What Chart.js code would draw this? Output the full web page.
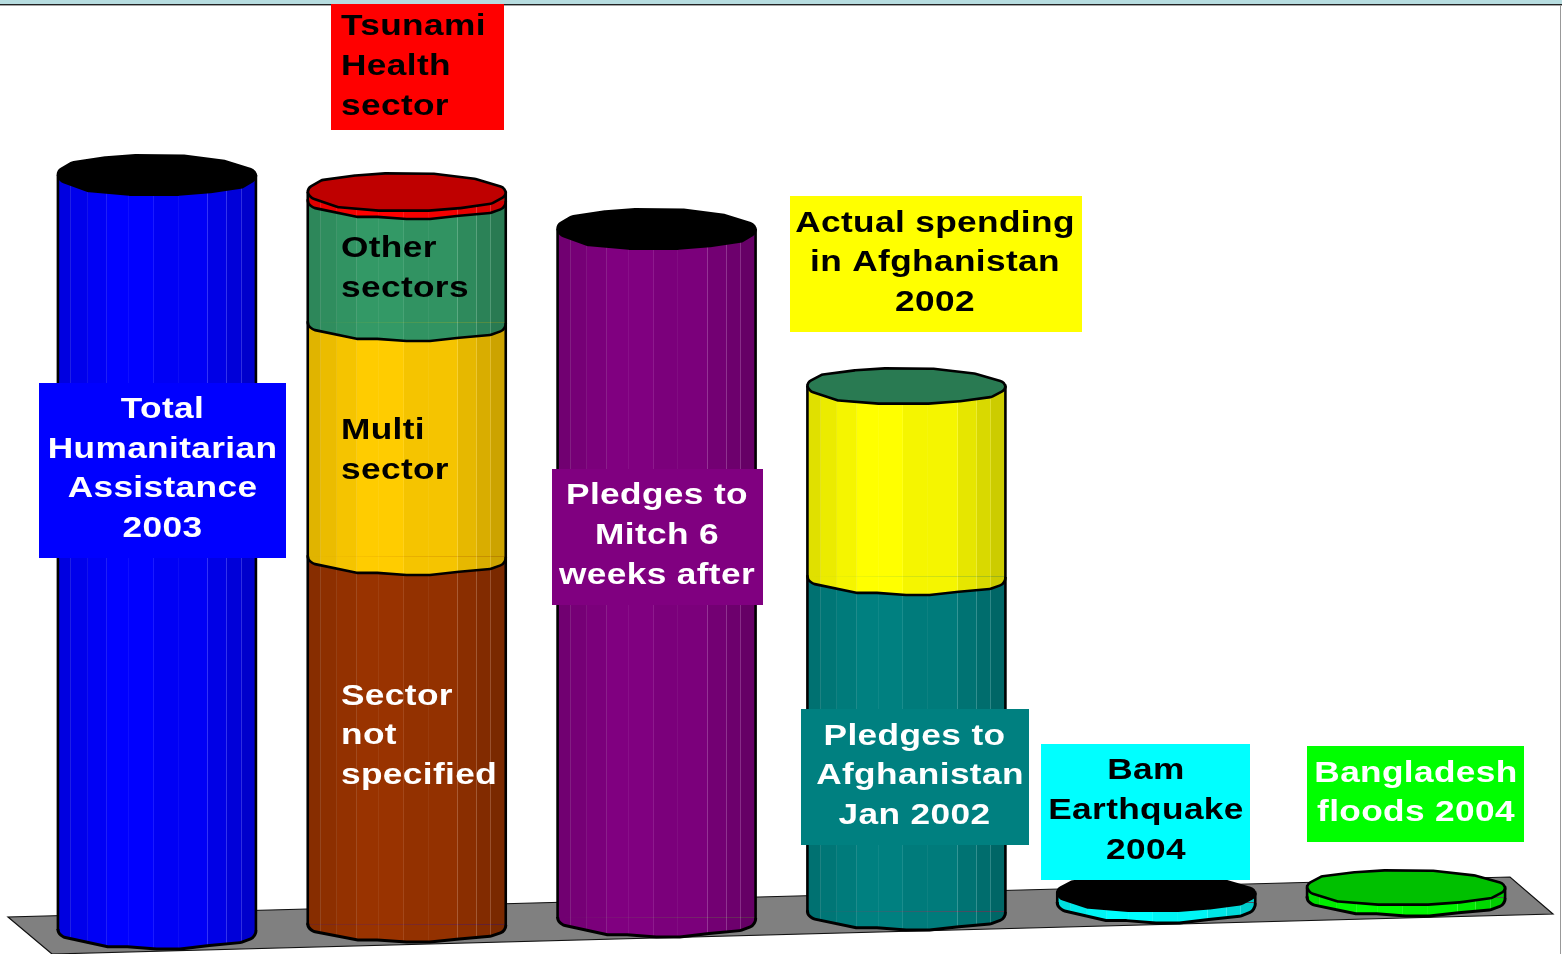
<!DOCTYPE html>
<html><head><meta charset="utf-8">
<style>html,body{margin:0;padding:0;background:#fff;overflow:hidden}canvas{display:block}</style>
<script src="https://cdn.jsdelivr.net/npm/chart.js@4"></script>
</head><body><canvas id="c" width="1562" height="954"></canvas>
<script>
const categories = ["Total Humanitarian Assistance 2003","Tsunami","Pledges to Mitch 6 weeks after","Afghanistan 2002","Bam Earthquake 2004","Bangladesh floods 2004"];
// height of each column foot above the lower edge (the sloping floor)
const floorLift    = [24, 29, 36, 42, 51, 56];
const totalHA      = [755, 0, 0, 0, 0, 0];
const notSpecified = [0, 368, 0, 0, 0, 0];
const multiSector  = [0, 234, 0, 0, 0, 0];
const otherSectors = [0, 122, 0, 0, 0, 0];
const tsunamiHealth= [0, 9, 0, 0, 0, 0];
const mitchPledges = [0, 0, 689, 0, 0, 0];
const afghanPledges= [0, 0, 0, 335, 0, 0];
const afghanActual = [0, 0, 0, 191, 0, 0];
const bamQuake     = [0, 0, 0, 0, 10, 0];
const bdFloods     = [0, 0, 0, 0, 0, 10.5];

const BAR_W = 198;
const CAP_H = [20, 19, 20, 18, 18, 17.5];
const FOOT_H = [19, 17, 19, 18, 20, 18];
const capColor = ["#000000","#bf0000","#000000","#297a52","#000000","#00c000"];

const capPts = [[-1,.08],[-1,-.2],[-.855,-.63],[-.52,-.87],[-.215,-.98],[.27,-.96],[.69,-.69],[.97,-.25],[1,-.05],[1,.2],[.86,.61],[.54,.85],[.22,.98],[-.28,.98],[-.69,.8],[-.96,.32]];
const footPts = [[-1,-.05],[-1,.15],[-.94,.38],[-.5,.88],[-.3,.88],[0,1],[.23,1],[.53,.82],[.85,.66],[.97,.42],[1,.15],[1,0]];

const edges = [-1,-.865,-.7,-.5,-.28,-.03,.22,.52,.71,.855,1];
const shade = [.88,.92,.96,1,1,.96,.96,.9,.85,.8];
const lineAt = [.12,.08,.12,.06,.1,.05,.2,.2,.18];
function mix(rgb,f,l){return 'rgb('+rgb.map(v=>{const s=v*f;return Math.round(s+(255-s)*l);}).join(',')+')';}
function hex(h){return [1,3,5].map(i=>parseInt(h.substr(i,2),16));}
function sideFill(chart,idx,color){
  const sx = chart.scales && chart.scales.x;
  const cx = sx ? sx.getPixelForValue(idx) : NaN;
  if(!isFinite(cx)) return color;
  const g = chart.ctx.createLinearGradient(cx-BAR_W/2,0,cx+BAR_W/2,0);
  const rgb = hex(color), eps=.005;
  shade.forEach((f,i)=>{
    const a=(edges[i]+1)/2, b=(edges[i+1]+1)/2;
    g.addColorStop(a,mix(rgb,f,0)); g.addColorStop(b-eps,mix(rgb,f,0));
    if(i<lineAt.length){g.addColorStop(b-eps,mix(rgb,f,lineAt[i]));g.addColorStop(b,mix(rgb,f,lineAt[i]));}
    else g.addColorStop(b,mix(rgb,f,0));
  });
  return g;
}
function outline(x,pts,closed,r){
  const n=pts.length;
  if(closed){
    const m=[(pts[n-1][0]+pts[0][0])/2,(pts[n-1][1]+pts[0][1])/2];
    x.moveTo(m[0],m[1]);
    pts.forEach((p,i)=>{const q=pts[(i+1)%n];x.arcTo(p[0],p[1],i===n-1?m[0]:q[0],i===n-1?m[1]:q[1],r);});
    x.closePath();
  }else{
    x.moveTo(pts[0][0],pts[0][1]);
    for(let i=1;i<n-1;i++)x.arcTo(pts[i][0],pts[i][1],pts[i+1][0],pts[i+1][1],r);
    x.lineTo(pts[n-1][0],pts[n-1][1]);
  }
}
const ds=(label,data,color)=>({label,data,stack:'s',borderWidth:0,_color:color,
  backgroundColor:c=>c.type==='data'?sideFill(c.chart,c.dataIndex,color):color});

const cylinders={id:'cylinders',
  beforeDatasetsDraw(chart){
    const x=chart.ctx;
    x.save();
    x.fillStyle='#b7dde0';x.fillRect(0,0,1562,4);
    x.fillStyle='#222';x.fillRect(0,4,1562,1.4);
    x.fillStyle='#999';x.fillRect(1560,5,1,949);
    x.beginPath();x.moveTo(8,917);x.lineTo(52,954);x.lineTo(1553,914);x.lineTo(1510,877);x.closePath();
    x.fillStyle='#808080';x.fill();x.strokeStyle='#111';x.lineWidth=1.2;x.stroke();
    x.restore();
  },
  afterDatasetsDraw(chart){
    const x=chart.ctx;
    x.save();x.lineJoin='round';x.lineCap='butt';
    categories.forEach((_,j)=>{
      let top=null;
      const segs=[];
      chart.data.datasets.forEach((d,i)=>{ if(i>0&&d.data[j]>0) segs.push({d,el:chart.getDatasetMeta(i).data[j]}); });
      const hw=BAR_W/2;
      segs.forEach((s,k)=>{
        const el=s.el,cx=el.x,b=el.base,dp=k===0?FOOT_H[j]:Math.max(FOOT_H[j],18);
        const pts=footPts.map(p=>[cx+p[0]*hw,b+p[1]*dp]);
        x.beginPath();outline(x,pts,false,7);x.closePath();
        x.fillStyle=sideFill(chart,j,s.d._color);x.fill();
        x.beginPath();outline(x,pts,false,7);
        x.strokeStyle='#000';x.lineWidth=k===0?3:2.6;x.stroke();
        top=el;
      });
      const first=segs[0].el;
      x.beginPath();x.moveTo(first.x-hw,first.base);x.lineTo(first.x-hw,top.y);
      x.moveTo(first.x+hw,first.base);x.lineTo(first.x+hw,top.y);
      x.strokeStyle='#000';x.lineWidth=2.6;x.stroke();
      const cap=capPts.map(p=>[top.x+p[0]*hw,top.y+p[1]*CAP_H[j]]);
      x.beginPath();outline(x,cap,true,7);
      x.fillStyle=capColor[j];x.fill();x.lineWidth=2.6;x.stroke();
    });
    x.restore();
  }
};

const notes=[
 {lines:["Tsunami","Health","sector"],box:[331,4,173,126,"#ff0000"],ink:"#000",x:341,left:true,y:[35,75,115]},
 {lines:["Other","sectors"],ink:"#000",x:341,left:true,y:[257,297]},
 {lines:["Multi","sector"],ink:"#000",x:341,left:true,y:[439,479]},
 {lines:["Sector","not","specified"],ink:"#fff",x:341,left:true,y:[705,744,784]},
 {lines:["Total","Humanitarian","Assistance","2003"],box:[39,383,247,175,"#0000ff"],ink:"#fff",x:162.5,y:[418,458,497,537]},
 {lines:["Pledges to","Mitch 6","weeks after"],box:[552,469,211,136,"#800080"],ink:"#fff",x:657,y:[504,544,584]},
 {lines:["Actual spending","in Afghanistan","2002"],box:[790,196,292,136,"#ffff00"],ink:"#000",x:935,y:[232,271,311]},
 {lines:["Pledges to","Afghanistan","Jan 2002"],box:[801,709,228,136,"#008080"],ink:"#fff",x:914.5,dx:[0,5.5,0],y:[745,784,824]},
 {lines:["Bam","Earthquake","2004"],box:[1041,744,209,136,"#00ffff"],ink:"#000",x:1146,y:[779,819,859]},
 {lines:["Bangladesh","floods 2004"],box:[1307,746,217,96,"#00ff00"],ink:"#fff",x:1416,y:[782,821]}
];
const STRETCH=1.215;
const callouts={id:'callouts',afterDraw(chart){
  const x=chart.ctx;
  notes.forEach(n=>{
    if(n.box){x.fillStyle=n.box[4];x.fillRect(n.box[0],n.box[1],n.box[2],n.box[3]);}
    x.save();
    x.font='bold 29px "Liberation Sans", Arial, sans-serif';
    x.letterSpacing='0.3px';
    x.fillStyle=n.ink;x.textBaseline='alphabetic';x.textAlign='left';
    n.lines.forEach((t,i)=>{
      const w=x.measureText(t).width*STRETCH;
      const X=(n.left?n.x:n.x-w/2)+(n.dx?n.dx[i]:0);
      x.save();x.translate(X,n.y[i]);x.scale(STRETCH,1);x.fillText(t,0,0);x.restore();
    });
    x.restore();
  });
}};

new Chart(document.getElementById('c'),{
  type:'bar',
  data:{labels:categories,datasets:[
    {label:'floor',data:floorLift,stack:'s',backgroundColor:'rgba(0,0,0,0)',borderWidth:0},
    ds('Total Humanitarian Assistance 2003',totalHA,'#0000ff'),
    ds('Sector not specified',notSpecified,'#993300'),
    ds('Multi sector',multiSector,'#ffcc00'),
    ds('Other sectors',otherSectors,'#339966'),
    ds('Tsunami Health sector',tsunamiHealth,'#ff0000'),
    ds('Pledges to Mitch 6 weeks after',mitchPledges,'#800080'),
    ds('Pledges to Afghanistan Jan 2002',afghanPledges,'#008080'),
    ds('Actual spending in Afghanistan 2002',afghanActual,'#ffff00'),
    ds('Bam Earthquake 2004',bamQuake,'#00ffff'),
    ds('Bangladesh floods 2004',bdFloods,'#00ff00')
  ]},
  options:{
    responsive:false,animation:false,
    layout:{padding:{left:32,right:31,top:0,bottom:0}},
    datasets:{bar:{barThickness:BAR_W}},
    plugins:{legend:{display:false},title:{display:false},tooltip:{enabled:false}},
    scales:{
      x:{stacked:true,display:false,offset:true},
      y:{stacked:true,display:false,min:0,max:954}
    }
  },
  plugins:[cylinders,callouts]
});
</script></body></html>
